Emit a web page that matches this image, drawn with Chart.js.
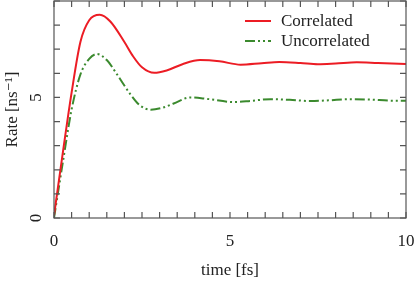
<!DOCTYPE html>
<html>
<head>
<meta charset="utf-8">
<script src="https://cdn.jsdelivr.net/npm/chart.js@4"></script>
<style>
  html, body { margin: 0; padding: 0; background: #ffffff; }
  #wrap { width: 415px; height: 281px; }
</style>
</head>
<body>
<div id="wrap"><canvas id="rateChart"></canvas></div>
<script>
// values
const corrTimes = [0, 0.25, 0.5, 0.75, 1.0, 1.3, 1.6, 2.0, 2.25, 2.5, 2.85, 3.2, 3.65, 4.15, 4.7, 5.3, 5.9, 6.4, 7.0, 7.5, 8.0, 8.6, 9.2, 10];
const corrValues = [0.1, 2.7, 5.2, 7.3, 8.2, 8.43, 8.15, 7.3, 6.7, 6.25, 6.02, 6.12, 6.38, 6.55, 6.5, 6.36, 6.42, 6.47, 6.43, 6.38, 6.41, 6.46, 6.43, 6.39];
const uncorrTimes = [0, 0.25, 0.5, 0.75, 1.0, 1.22, 1.5, 1.78, 2.16, 2.44, 2.75, 3.1, 3.4, 3.87, 4.35, 5.1, 5.6, 6.15, 6.7, 7.3, 7.8, 8.4, 9.0, 9.5, 10];
const uncorrValues = [0, 2.3, 4.5, 5.95, 6.6, 6.8, 6.55, 5.98, 5.15, 4.67, 4.49, 4.58, 4.75, 5.0, 4.94, 4.81, 4.86, 4.93, 4.9, 4.85, 4.88, 4.93, 4.91, 4.87, 4.86];
const seriesLabels = ["Correlated", "Uncorrelated"];
const xLabelTicks = [0, 5, 10];
const yLabelTicks = [0, 5];

const FONT = "'Liberation Serif', 'DejaVu Serif', serif";
const AXIS_COLOR = "#555555";
const TEXT_COLOR = "#222222";

function toPoints(xs, ys) {
  return xs.map(function (x, i) { return { x: x, y: ys[i] }; });
}

// no extra room for overhanging tick labels, the plot box is fixed
function noPadding(scale) {
  scale.paddingTop = 0;
  scale.paddingBottom = 0;
  scale.paddingLeft = 0;
  scale.paddingRight = 0;
}

// box around the plot, inward ticks on all four sides, and the legend
const framePlugin = {
  id: "frame",
  afterDatasetsDraw: function (chart) {
    const ctx = chart.ctx;
    const a = chart.chartArea;
    const xs = chart.scales.x;
    const ys = chart.scales.y;
    const len = 6;
    ctx.save();
    ctx.strokeStyle = AXIS_COLOR;
    ctx.lineWidth = 1.2;
    ctx.strokeRect(a.left, a.top, a.right - a.left, a.bottom - a.top);
    ctx.beginPath();
    xs.ticks.forEach(function (t) {
      const px = xs.getPixelForValue(t.value);
      ctx.moveTo(px, a.bottom); ctx.lineTo(px, a.bottom - len);
      ctx.moveTo(px, a.top); ctx.lineTo(px, a.top + len);
    });
    ys.ticks.forEach(function (t) {
      const py = ys.getPixelForValue(t.value);
      ctx.moveTo(a.left, py); ctx.lineTo(a.left + len, py);
      ctx.moveTo(a.right, py); ctx.lineTo(a.right - len, py);
    });
    ctx.stroke();
    ctx.restore();
  },
  afterDraw: function (chart) {
    const ctx = chart.ctx;
    const a = chart.chartArea;
    ctx.save();
    ctx.font = "17px " + FONT;
    ctx.textBaseline = "middle";
    ctx.fillStyle = TEXT_COLOR;
    chart.data.datasets.forEach(function (ds, i) {
      const y = a.top + 20 + i * 20;
      ctx.strokeStyle = ds.borderColor;
      ctx.lineWidth = ds.borderWidth;
      ctx.setLineDash(ds.borderDash || []);
      ctx.beginPath();
      ctx.moveTo(a.right - 161, y);
      ctx.lineTo(a.right - 135, y);
      ctx.stroke();
      ctx.setLineDash([]);
      ctx.fillText(ds.label, a.right - 125, y + 1);
    });
    ctx.restore();
  }
};

const ctx = document.getElementById("rateChart").getContext("2d");

new Chart(ctx, {
  type: "line",
  data: {
    datasets: [
      {
        label: seriesLabels[0],
        data: toPoints(corrTimes, corrValues),
        borderColor: "#ec1c24",
        borderWidth: 2,
        pointRadius: 0,
        cubicInterpolationMode: "monotone",
        fill: false,
      },
      {
        label: seriesLabels[1],
        data: toPoints(uncorrTimes, uncorrValues),
        borderColor: "#3b8a2e",
        borderWidth: 2,
        borderDash: [10, 3, 2, 3, 2, 3],
        pointRadius: 0,
        cubicInterpolationMode: "monotone",
        fill: false,
      },
    ],
  },
  options: {
    responsive: true,
    maintainAspectRatio: false,
    animation: false,
    layout: { padding: { top: 1, right: 9, left: 0, bottom: 0 } },
    plugins: {
      legend: { display: false },
      tooltip: { enabled: false },
    },
    scales: {
      x: {
        type: "linear",
        min: 0,
        max: 10,
        grid: { display: false, drawTicks: false },
        border: { display: false },
        ticks: {
          stepSize: 0.5,
          autoSkip: false,
          maxRotation: 0,
          padding: 13,
          color: TEXT_COLOR,
          font: { family: FONT, size: 17 },
          callback: function (value) {
            return xLabelTicks.indexOf(value) >= 0 ? String(value) : "";
          },
        },
        title: {
          display: true,
          text: "time [fs]",
          color: TEXT_COLOR,
          font: { family: FONT, size: 17 },
          padding: { top: 4, bottom: 0 },
        },
        afterFit: function (scale) {
          scale.height = 63;
          noPadding(scale);
        },
      },
      y: {
        type: "linear",
        min: 0,
        max: 9,
        grid: { display: false, drawTicks: false },
        border: { display: false },
        ticks: {
          stepSize: 1,
          autoSkip: false,
          minRotation: 90,
          maxRotation: 90,
          crossAlign: "center",
          padding: 13,
          color: TEXT_COLOR,
          font: { family: FONT, size: 17 },
          callback: function (value) {
            return yLabelTicks.indexOf(value) >= 0 ? String(value) : "";
          },
        },
        title: {
          display: true,
          text: "Rate [ns\u207B\u00B9]",
          color: TEXT_COLOR,
          font: { family: FONT, size: 17 },
          padding: { top: 2, bottom: 0 },
        },
        afterFit: function (scale) {
          scale.width = 54;
          noPadding(scale);
        },
      },
    },
  },
  plugins: [framePlugin],
});
</script>
</body>
</html>
